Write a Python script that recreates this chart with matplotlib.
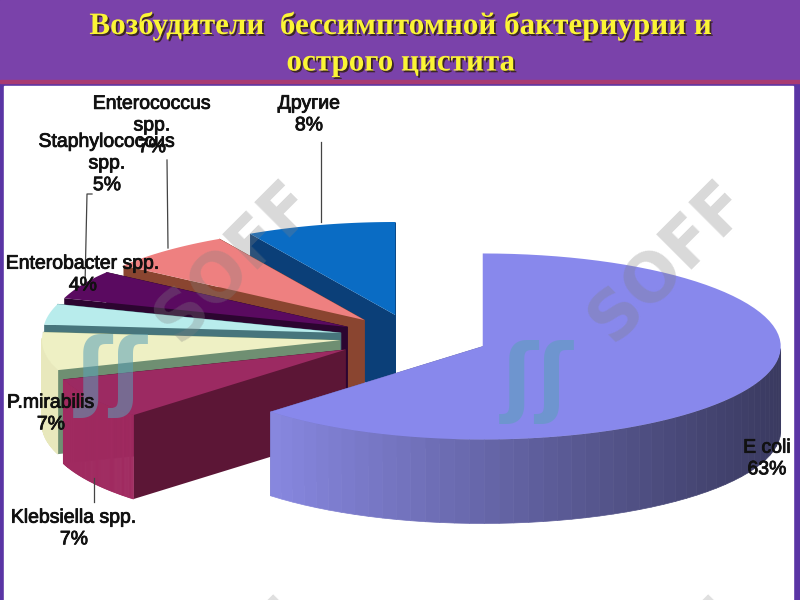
import numpy as np
import matplotlib
matplotlib.use('Agg')
import matplotlib.pyplot as plt
import matplotlib.patheffects as pe
from matplotlib.colors import to_rgb
from matplotlib.patches import Rectangle

# data, clockwise from 12 o'clock (estimated, labels show them rounded)
nomes = ['E coli', 'Klebsiella spp.', 'P.mirabilis', 'Enterobacter spp.',
         'Staphylococcus\nspp.', 'Enterococcus\nspp.', 'Другие']
valores = [62.6, 7.2, 6.6, 3.6, 5.0, 6.9, 8.1]

cor_topo = ['#8888ec', '#9c2a62', '#eef0c4', '#b8ecec', '#5a0a60', '#ee8080', '#0a6cc4']
cor_arco = ['#8a8ae4', '#a02a60', '#e8e8bc', '#a0d0d0', '#3c0840', '#a05040', '#0a3f78']
cor_raio = ['#6a6ab8', '#5c1636', '#6f8f72', '#47757c', '#2c0530', '#8a4530', '#0b3f78']
explodes = [0.25, 0.27, 0.25, 0.25, 0.25, 0.25, 0.25]

# label centre and leader lines, in pixels
pos_nomes = [(767, 459), (74, 529), (51, 414), (83, 275), (107, 164), (152, 126), (309, 115)]
guias = [((321, 142), (321, 222)), ((167, 160), (168, 248)),
         ((92, 194), (87, 194), (85, 285)), ((94, 478), (94, 502))]

cx, cy = 414, 337.5
rx, ry = 298, 93
prof = 84


def arco(x0, y0, a, b, n=80):
    t = np.radians(np.linspace(a, b, n))
    return x0 + rx * np.cos(t), y0 - ry * np.sin(t), t


fig = plt.figure(figsize=(8, 6), dpi=100, facecolor='#5a35a5')
ax = fig.add_axes([0, 0, 1, 1])
ax.set_xlim(0, 800)
ax.set_ylim(600, 0)
ax.axis('off')

# slide background
ax.add_patch(Rectangle((0, 0), 800, 81, color='#7a42aa', zorder=0))
ax.add_patch(Rectangle((0, 80), 800, 3, color='#a83a72', zorder=0))
ax.add_patch(Rectangle((4, 86), 789, 514, color='white', zorder=0))

# angles of every slice (the pie runs clockwise from the top)
fatias = np.array(valores, dtype=float)
passos = fatias / fatias.sum() * 360
fins = 90 - np.cumsum(passos)
inicios = fins + passos

# painter order: back slices first, E coli last
ordem = [6, 5, 4, 3, 2, 1, 0]
z = 2
for i in ordem:
    a, b = inicios[i], fins[i]
    meio = np.radians((a + b) / 2)
    x0 = cx + explodes[i] * rx * np.cos(meio)
    y0 = cy - 0.25 * ry * np.sin(meio)
    xs, ys, ts = arco(x0, y0, a, b)

    # radial walls
    ax.fill([x0, xs[0], xs[0], x0], [y0, ys[0], ys[0] + prof, y0 + prof],
            color=cor_raio[i], lw=0, zorder=z)
    ax.fill([x0, xs[-1], xs[-1], x0], [y0, ys[-1], ys[-1] + prof, y0 + prof],
            color=cor_raio[i], lw=0.4, zorder=z)

    # outer wall, shaded strip by strip
    base = np.array(to_rgb(cor_arco[i]))
    for k in range(len(ts) - 1):
        if np.sin(ts[k]) > 0.02:
            continue
        luz = 1 - 0.58 * np.clip((np.cos(ts[k]) + 0.75) / 1.75, 0, 1) if i == 0 else 1.0
        ax.fill([xs[k], xs[k + 1], xs[k + 1], xs[k]],
                [ys[k], ys[k + 1], ys[k + 1] + prof, ys[k] + prof],
                color=tuple(base * luz), lw=0.5, zorder=z)

    ax.fill(np.r_[x0, xs], np.r_[y0, ys], color=cor_topo[i], lw=0, zorder=z + 0.5)
    z += 1

# watermark
for x, y in [(668, 262), (234, 262)]:
    ax.text(x, y, 'SOFF', rotation=45, ha='center', va='center', fontsize=48,
            fontweight='bold', color='#808080', alpha=0.3, zorder=20)
for x, y in [(538, 382), (112, 376)]:
    ax.text(x, y, 'ʃʃ', rotation=0, ha='center', va='center', fontsize=62,
            fontweight='bold', color='#5aa0b8', alpha=0.55, zorder=20)
for x in [229, 664]:
    ax.text(x, 678, 'SOFF', rotation=45, ha='center', va='center', fontsize=48,
            fontweight='bold', color='#808080', alpha=0.25, zorder=20)

# leader lines and labels
for g in guias:
    ax.plot(*zip(*g), color='#444444', lw=0.9, zorder=21)
traco = [pe.withStroke(linewidth=0.6, foreground='#111111')]
for nome, v, (x, y) in zip(nomes, valores, pos_nomes):
    ax.text(x, y, f'{nome}\n{round(v)}%', ha='center', va='center', multialignment='center',
            fontsize=14, linespacing=1.36, zorder=22, family='Liberation Sans',
            color='#111111', path_effects=traco)

# title
sombra = [pe.SimplePatchShadow(offset=(1.3, -1.3), shadow_rgbFace='#302010', alpha=0.85), pe.Normal()]
ax.text(401, 26, 'Возбудители  бессимптомной бактериурии и', ha='center', va='center',
        fontsize=22.4, fontweight='bold', family='Liberation Serif', color='#fbf535',
        path_effects=sombra, zorder=30)
ax.text(401, 63, 'острого цистита', ha='center', va='center',
        fontsize=22.4, fontweight='bold', family='Liberation Serif', color='#fbf535',
        path_effects=sombra, zorder=30)

fig.savefig('out.png', dpi=100)
